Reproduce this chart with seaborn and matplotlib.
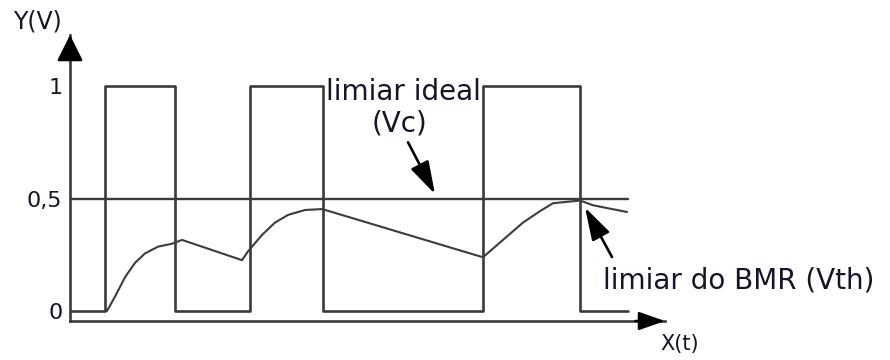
import matplotlib
matplotlib.use("Agg")
import matplotlib.pyplot as plt
import seaborn as sns

# Input square wave: switching instants and the level held after each one
edge_t = [0.0, 3.5, 10.5, 18.0, 25.3, 41.3, 51.0, 55.8]
edge_level = [0, 1, 0, 1, 0, 1, 0, 0]

# Ideal decision threshold (Vc)
vc_t = [0.0, 55.8]
vc_level = [0.5, 0.5]

# Adaptive threshold of the burst-mode receiver (Vth)
vth_t = [3.7, 4.5, 5.5, 6.5, 7.5, 8.8, 10.2, 11.2, 17.2, 17.8, 19.2, 20.5,
         21.8, 23.5, 25.2, 26.5, 40.0, 41.3, 43.3, 45.3, 47.0, 48.3, 51.0,
         52.3, 55.7]
vth_level = [0.0, 0.064, 0.150, 0.214, 0.256, 0.286, 0.299, 0.316, 0.226,
             0.265, 0.338, 0.393, 0.427, 0.449, 0.453, 0.436, 0.256, 0.239,
             0.316, 0.393, 0.444, 0.479, 0.491, 0.470, 0.440]

y_ticks = [0, 0.5, 1]
y_tick_labels = ["0", "0,5", "1"]

sns.set_style("white")
plt.rcParams["font.family"] = ["DejaVu Sans"]

ink = "#3a3a3a"
txt = "#14142a"

fig = plt.figure(figsize=(8.9, 3.6), dpi=100)
ax = fig.add_axes([70 / 890, 39 / 360, 595 / 890, 286 / 360])

sns.lineplot(x=edge_t, y=edge_level, drawstyle="steps-post", color=ink,
             lw=1.9, estimator=None, ax=ax)
sns.lineplot(x=vc_t, y=vc_level, color=ink, lw=1.7, estimator=None, ax=ax)
sns.lineplot(x=vth_t, y=vth_level, color="#3c3c3c", lw=1.5, estimator=None,
             ax=ax)

ax.set_xlim(0, 59.5)
ax.set_ylim(-0.0444, 1.2267)

for side in ("top", "right"):
    ax.spines[side].set_visible(False)
for side in ("left", "bottom"):
    ax.spines[side].set_color(ink)
    ax.spines[side].set_linewidth(1.9)

# Axis arrow heads
ax.annotate("", xy=(0, 1.0), xytext=(0, 0.92), xycoords="axes fraction",
            arrowprops=dict(arrowstyle="-|>,head_length=0.8,head_width=0.4",
                            mutation_scale=20, color="black", lw=1.8,
                            shrinkA=0, shrinkB=0))
ax.annotate("", xy=(1.0, 0), xytext=(0.95, 0), xycoords="axes fraction",
            arrowprops=dict(arrowstyle="-|>,head_length=0.8,head_width=0.28",
                            mutation_scale=20, color="black", lw=1.8,
                            shrinkA=0, shrinkB=0))

ax.set_xticks([])
ax.set_yticks(y_ticks)
ax.set_yticklabels(y_tick_labels, fontsize=16, color=txt)
ax.tick_params(axis="y", direction="inout", length=7, width=1.6,
               color=ink, pad=2)
for tick in ax.yaxis.get_major_ticks()[:2]:
    tick.tick1line.set_visible(False)
ax.set_xlabel("")
ax.set_ylabel("")

fig.text(37 / 890, 1 - 22 / 360, "Y(V)", fontsize=17, color=txt,
         ha="center", va="center")
fig.text(660 / 890, 1 - 344 / 360, "X(t)", fontsize=15, color=txt,
         ha="left", va="center")

ax.text(33.3, 0.938, "limiar ideal", fontsize=20, color=txt,
        ha="center", va="baseline")
ax.text(32.9, 0.796, "(Vc)", fontsize=20, color=txt,
        ha="center", va="baseline")
ax.annotate("", xy=(36.5, 0.52), xytext=(33.8, 0.75),
            arrowprops=dict(arrowstyle="-|>,head_length=1.0,head_width=0.3",
                            mutation_scale=20, color="black", lw=1.9,
                            shrinkA=0, shrinkB=0))

ax.text(53.3, 0.102, "limiar do BMR (Vth)", fontsize=20, color=txt,
        ha="left", va="baseline", clip_on=False)
ax.annotate("", xy=(51.5, 0.46), xytext=(54.2, 0.24),
            arrowprops=dict(arrowstyle="-|>,head_length=1.0,head_width=0.3",
                            mutation_scale=20, color="black", lw=1.9,
                            shrinkA=0, shrinkB=0))

fig.savefig("out.png", dpi=100, facecolor="white")
